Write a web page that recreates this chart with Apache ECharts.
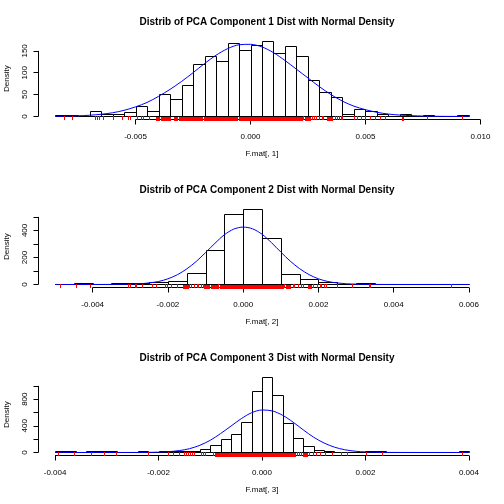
<!DOCTYPE html>
<html>
<head>
<meta charset="utf-8">
<script src="https://cdn.jsdelivr.net/npm/echarts@6/dist/echarts.min.js"></script>
<style>
  html, body { margin: 0; padding: 0; background: #fff; }
  #chart { width: 504px; height: 504px; }
</style>
</head>
<body>
<div id="chart"></div>
<script>
  // ---- panel 1 : F.mat[, 1] ----
  const binStart1 = -0.0085;
  const binWidth1 = 0.0005;
  const density1 = [4, 4, 1.5, 13, 5, 6, 11, 25, 13, 52, 41, 73, 119, 138, 126, 168, 152, 164,
    173, 145, 161, 138, 83, 55, 44, 6, 18, 13, 6, 2, 6, 1.5, 4, 0, 0, 4];
  const curveStart1 = -0.0085;
  const curveStep1 = 0.0005;
  const curve1 = [0.4, 0.8, 1.5, 2.8, 5, 8.5, 14, 22, 32, 46, 62, 80, 100, 121, 140, 155, 164, 165,
    159, 146, 128, 108, 88, 68, 50, 35, 23.5, 15.5, 9.5, 5.5, 3.2, 1.8, 1.0, 0.5, 0.2, 0.1, 0.05];
  const rugTicks1 = [-0.00809, -0.00778, -0.00678, -0.00668, -0.00658, -0.00643, -0.00598, -0.00559,
    -0.00533, -0.00523, -0.00493, -0.00478, -0.00468, -0.00443, 0.00230, 0.00267, 0.00277, 0.00284,
    0.00296, 0.00310, 0.00317, 0.00368, 0.00378, 0.00387, 0.00394, 0.00400, 0.00452, 0.00463,
    0.00480, 0.00499, 0.00520, 0.00542, 0.00564, 0.00583, 0.00767, 0.00919];
  const rugBands1 = [[-0.00410, -0.00398], [-0.00388, -0.00349], [-0.00333, -0.00319],
    [-0.00313, -0.00211], [-0.00204, -0.00059], [-0.00050, 0.00223], [0.00238, 0.00257],
    [0.00332, 0.00354], [0.00658, 0.00663]];
  const xTicks1 = [-0.005, 0, 0.005, 0.010];
  const yTicks1 = [0, 50, 100, 150];
  const yLabels1 = [0, 50, 100, 150];

  // ---- panel 2 : F.mat[, 2] ----
  const binStart2 = -0.005;
  const binWidth2 = 0.0005;
  const density2 = [0, 7.5, 0, 7.5, 7.5, 20, 28, 88, 252, 522, 560, 342, 81, 42, 15, 5, 7.5, 0, 0, 0, 0, 0];
  const curveStart2 = -0.005;
  const curveStep2 = 0.00025;
  const curve2 = [0, 0, 0, 0, 0.05, 0.15, 0.4, 1, 2.3, 5.3, 11.5, 22, 42, 72, 115, 170, 236, 305, 368, 410,
    425, 412, 372, 310, 240, 173, 117, 73, 42, 22, 11.5, 5.3, 2.3, 1, 0.4, 0.15, 0.05, 0, 0, 0, 0, 0, 0, 0, 0];
  const rugTicks2 = [-0.00488, -0.00445, -0.00408, -0.00306, -0.00302, -0.00288, -0.00284, -0.00270,
    -0.00242, -0.00233, -0.00208, -0.00203, -0.00193, -0.00175, -0.00143, -0.00138, -0.00131, -0.00124,
    -0.00119, -0.00113, -0.00108, -0.00067, 0.00109, 0.00132, 0.00136, 0.00145, 0.00154, 0.00159,
    0.00185, 0.00197, 0.00203, 0.00207, 0.00214, 0.00221, 0.00250, 0.00288, 0.00334, 0.00338, 0.00552];
  const rugBands2 = [[-0.00159, -0.00148], [-0.00104, -0.00091], [-0.00086, -0.00068],
    [-0.00061, 0.00105], [0.00114, 0.00125], [0.00172, 0.00181]];
  const xTicks2 = [-0.004, -0.002, 0, 0.002, 0.004, 0.006];
  const yTicks2 = [0, 100, 200, 300, 400, 500];
  const yLabels2 = [0, 200, 400];

  // ---- panel 3 : F.mat[, 3] ----
  const binStart3 = -0.004;
  const binWidth3 = 0.0002;
  const density3 = [15, 15, 0, 15, 15, 15, 0, 0, 15, 0, 15, 15, 20, 25, 50, 114, 200, 280, 458, 925,
    1136, 862, 438, 214, 93, 30, 15, 10, 5, 0, 15, 15, 0, 0, 0, 0, 0, 0, 0, 15];
  const curveStart3 = -0.004;
  const curveStep3 = 0.0002;
  const curve3 = [0, 0, 0, 0, 0, 0, 0.05, 0.2, 0.7, 1.9, 5, 12.5, 28, 57, 108, 183, 284, 396, 508, 597,
    638, 624, 558, 456, 338, 228, 142, 80, 41, 19, 8, 3.2, 1.1, 0.4, 0.1, 0, 0, 0, 0, 0, 0];
  const rugTicks3 = [-0.00394, -0.00363, -0.00330, -0.00305, -0.00283, -0.00221, -0.00181, -0.00172,
    -0.00161, -0.00150, -0.00147, -0.00143, -0.00139, -0.00135, -0.00132, -0.00118, -0.00115, -0.00111,
    -0.00094, 0.00067, 0.00071, 0.00075, 0.00090, 0.00099, 0.00105, 0.00112, 0.00122, 0.00135,
    0.00153, 0.00164, 0.00201, 0.00231, 0.00387];
  const rugBands3 = [[-0.00090, 0.00063], [0.00079, 0.00087]];
  const xTicks3 = [-0.004, -0.002, 0, 0.002, 0.004];
  const yTicks3 = [0, 200, 400, 600, 800, 1000];
  const yLabels3 = [0, 400, 800];

  const panels = [
    { title: 'Distrib of PCA Component 1 Dist with Normal Density', xName: 'F.mat[, 1]',
      binStart: binStart1, binWidth: binWidth1, density: density1, curveStart: curveStart1, curveStep: curveStep1,
      curve: curve1, rugTicks: rugTicks1, rugBands: rugBands1, xTicks: xTicks1, yTicks: yTicks1, yLabels: yLabels1 },
    { title: 'Distrib of PCA Component 2 Dist with Normal Density', xName: 'F.mat[, 2]',
      binStart: binStart2, binWidth: binWidth2, density: density2, curveStart: curveStart2, curveStep: curveStep2,
      curve: curve2, rugTicks: rugTicks2, rugBands: rugBands2, xTicks: xTicks2, yTicks: yTicks2, yLabels: yLabels2 },
    { title: 'Distrib of PCA Component 3 Dist with Normal Density', xName: 'F.mat[, 3]',
      binStart: binStart3, binWidth: binWidth3, density: density3, curveStart: curveStart3, curveStep: curveStep3,
      curve: curve3, rugTicks: rugTicks3, rugBands: rugBands3, xTicks: xTicks3, yTicks: yTicks3, yLabels: yLabels3 }
  ];

  const FONT = 'Liberation Sans, Arial, sans-serif';
  const PANEL_H = 168;
  const GRID_LEFT = 38.5, GRID_W = 447, GRID_TOP = 37.8, GRID_H = 81.7;
  const RUG_LEN = 4;

  const chart = echarts.init(document.getElementById('chart'), null, { renderer: 'canvas' });

  const option = {
    animation: false,
    backgroundColor: '#fff',
    title: [], grid: [], xAxis: [], yAxis: [], series: []
  };

  const crisp = v => Math.round(v) + 0.5;

  panels.forEach((p, i) => {
    const off = i * PANEL_H;
    const nBins = p.density.length;
    const b0 = p.binStart, bN = p.binStart + nBins * p.binWidth;
    const xMin = b0 - 0.04 * (bN - b0), xMax = bN + 0.04 * (bN - b0);
    const yTop = Math.max(...p.density);
    const yMin = -0.04 * yTop, yMax = 1.04 * yTop;

    option.title.push({
      text: p.title, left: GRID_LEFT + GRID_W / 2, top: off + 12, textAlign: 'center',
      textStyle: { fontFamily: FONT, fontSize: 10, fontWeight: 'bold', color: '#000' }
    });
    option.grid.push({
      left: GRID_LEFT, top: off + GRID_TOP, width: GRID_W, height: GRID_H,
      containLabel: false, outerBoundsMode: 'none'
    });
    option.xAxis.push({
      gridIndex: i, type: 'value', min: xMin, max: xMax,
      name: p.xName, nameLocation: 'middle', nameGap: 30,
      nameTextStyle: { fontFamily: FONT, fontSize: 8, color: '#000' },
      axisLine: { show: false, onZero: false },
      axisTick: { show: true, length: 5, customValues: p.xTicks, lineStyle: { color: '#000', width: 1 } },
      axisLabel: { show: true, customValues: p.xTicks, margin: 13, fontFamily: FONT, fontSize: 8, color: '#000',
        formatter: v => v.toFixed(3) },
      splitLine: { show: false }
    });
    option.yAxis.push({
      gridIndex: i, type: 'value', min: yMin, max: yMax,
      name: 'Density', nameLocation: 'middle', nameGap: 28, nameRotate: 90,
      nameTextStyle: { fontFamily: FONT, fontSize: 8, color: '#000' },
      axisLine: { show: false, onZero: false },
      axisTick: { show: true, length: 5, customValues: p.yTicks, lineStyle: { color: '#000', width: 1 } },
      axisLabel: { show: true, customValues: p.yLabels, rotate: 90, margin: 10, fontFamily: FONT, fontSize: 8, color: '#000' },
      splitLine: { show: false }
    });

    // histogram bars: [left break, right break, density]
    const bars = p.density.map((d, k) => [b0 + k * p.binWidth, b0 + (k + 1) * p.binWidth, d]);
    option.series.push({
      type: 'custom', xAxisIndex: i, yAxisIndex: i, z: 2, silent: true,
      data: bars,
      renderItem: (params, api) => {
        const a = api.coord([api.value(0), api.value(2)]);
        const b = api.coord([api.value(1), 0]);
        const x0 = crisp(a[0]), x1 = crisp(b[0]), y0 = crisp(a[1]), y1 = crisp(b[1]);
        return { type: 'rect', shape: { x: x0, y: y0, width: x1 - x0, height: y1 - y0 },
          style: { fill: 'none', stroke: '#000', lineWidth: 1 } };
      }
    });

    // normal density curve
    const curveData = p.curve.map((v, k) => [p.curveStart + k * p.curveStep, v]);
    option.series.push({
      type: 'line', xAxisIndex: i, yAxisIndex: i, z: 4, silent: true,
      data: curveData, symbol: 'none', smooth: 0.3,
      lineStyle: { color: '#0000ff', width: 1 }
    });

    // axis lines spanning first to last tick (R style)
    const xs = p.xTicks, ys = p.yTicks;
    option.series.push({
      type: 'line', xAxisIndex: i, yAxisIndex: i, z: 3, silent: true, clip: false,
      data: [[xs[0], yMin], [xs[xs.length - 1], yMin]], symbol: 'none',
      lineStyle: { color: '#000', width: 1 }
    });
    option.series.push({
      type: 'line', xAxisIndex: i, yAxisIndex: i, z: 3, silent: true, clip: false,
      data: [[xMin, ys[0]], [xMin, ys[ys.length - 1]]], symbol: 'none',
      lineStyle: { color: '#000', width: 1 }
    });

    // rug: single ticks
    option.series.push({
      type: 'custom', xAxisIndex: i, yAxisIndex: i, z: 5, silent: true, clip: false,
      data: p.rugTicks.map(v => [v]),
      renderItem: (params, api) => {
        const c = api.coord([api.value(0), yMin]);
        const x = crisp(c[0]);
        return { type: 'line', shape: { x1: x, y1: c[1] + 0.5, x2: x, y2: c[1] - RUG_LEN + 0.5 },
          style: { stroke: '#ff0000', lineWidth: 1 } };
      }
    });
    // rug: runs of ticks so dense they merge into a solid band
    option.series.push({
      type: 'custom', xAxisIndex: i, yAxisIndex: i, z: 5, silent: true, clip: false,
      data: p.rugBands,
      renderItem: (params, api) => {
        const a = api.coord([api.value(0), yMin]);
        const b = api.coord([api.value(1), yMin]);
        const x0 = Math.round(a[0]), x1 = Math.round(b[0]) + 1;
        return { type: 'rect', shape: { x: x0, y: Math.round(a[1]) - RUG_LEN + 1, width: x1 - x0, height: RUG_LEN },
          style: { fill: '#ff0000' } };
      }
    });
  });

  chart.setOption(option);
</script>
</body>
</html>
